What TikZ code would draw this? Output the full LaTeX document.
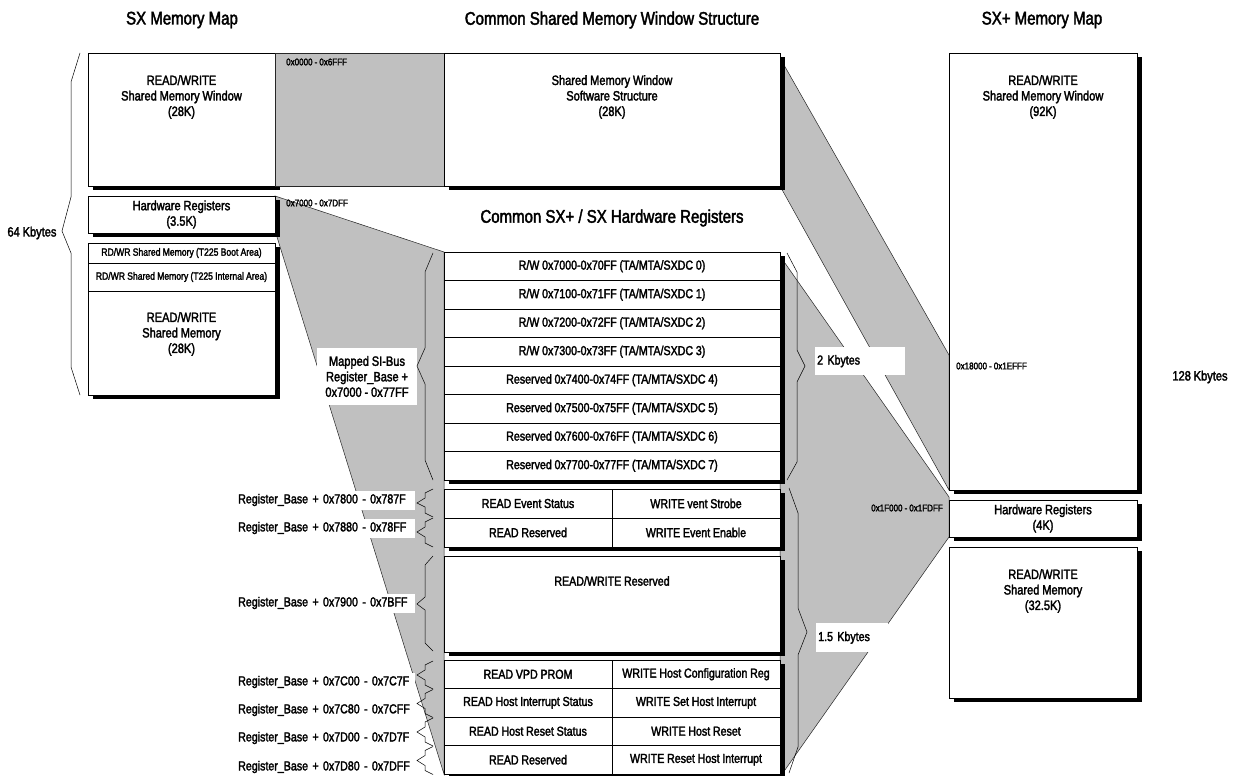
\documentclass[tikz,border=0pt]{standalone}
\usepackage{fontspec}
\setmainfont{Liberation Sans}[FakeStretch=0.82, FakeBold=2.2]
\usepackage{tikz}
\usetikzlibrary{shadows}

\definecolor{bandgray}{RGB}{192,192,192}
\protected\def\narrowsp{\spaceskip=0.21em plus 0.08em\relax}

\begin{document}
\begin{tikzpicture}[x=1pt,y=-1pt,
  heading/.style={font=\fontsize{18.3}{22}\selectfont},
  txt/.style={font=\fontsize{13.5}{15.5}\selectfont\narrowsp, align=center},
  addr/.style={font=\fontsize{9.8}{11}\selectfont\narrowsp, inner sep=1pt},
  mem/.style={draw, fill=white, line width=0.7pt, inner sep=0pt},
  memshadow/.style={mem, drop shadow={fill=black, opacity=1, shadow xshift=5pt, shadow yshift=-4pt}},
  cell/.style={draw, fill=white, line width=0.6pt, inner sep=0pt, font=\fontsize{13}{15}\selectfont\narrowsp},
  band/.style={fill=bandgray, draw=black!85, line width=0.5pt},
  tag/.style={fill=white, inner sep=2pt, font=\fontsize{13}{15}\selectfont\narrowsp},
  brace/.style={line width=0.5pt}]
\useasboundingbox (0,0) rectangle (1235,776);
\fill[white] (0,0) rectangle (1235,776);

% headings
\node[heading] (sxtitle) at (182,20) {SX Memory Map};
\node[heading] (cmtitle) at (612,20) {Common Shared Memory Window Structure};
\node[heading] (sxptitle) at (1042,20) {SX+ Memory Map};
\node[heading] (hwtitle) at (612,218) {Common SX+ / SX Hardware Registers};

% SX memory map
\node[memshadow, minimum width=187pt, minimum height=133pt] (sxwin) at (181.5,119.5) {};

% gray bands
\draw[band] (275,53) rectangle (444,186);
\draw[band] (275,196) -- (444,252) -- (444,774) -- (277,237) -- cycle;
\draw[band] (780,58) -- (949,355) -- (949,490) -- (780,186) -- cycle;
\draw[band] (780,256) -- (949,497) -- (949,537) -- (780,777) -- cycle;

\node[txt] (sxwintxt) at (181.5,97) {READ/WRITE\\Shared Memory Window\\(28K)};
\node[memshadow, txt, minimum width=187pt, minimum height=37pt] (sxhw) at (181.5,214.5) {Hardware Registers\\(3.5K)};
\node[memshadow, minimum width=187pt, minimum height=152pt] (sxmem) at (181.5,319) {};
\node[cell, minimum width=187pt, minimum height=20pt, font=\fontsize{10.5}{12}\selectfont\narrowsp] (boot) at (181.5,253) {RD/WR Shared Memory (T225 Boot Area)};
\node[cell, minimum width=187pt, minimum height=28pt, font=\fontsize{10.5}{12}\selectfont\narrowsp] (internal) at (181.5,277) {RD/WR Shared Memory (T225 Internal Area)};
\node[txt] (sxmemtxt) at (181.5,334) {READ/WRITE\\Shared Memory\\(28K)};
\node[txt, anchor=east] (k64) at (60,233) {64 Kbytes};

% common window structure
\node[memshadow, minimum width=336pt, minimum height=133pt] (swstruct) at (612,119.5) {};
\node[txt] (swstructtxt) at (612,97) {Shared Memory Window\\Software Structure\\(28K)};
\node[addr, anchor=west] (addr0) at (285,62) {0x0000 - 0x6FFF};
\node[addr, anchor=west] (addr7) at (285,203) {0x7000 - 0x7DFF};

% hardware registers, SI-Bus part
\node[memshadow, minimum width=336pt, minimum height=228pt] (grpa) at (612,366) {};
\node[cell, minimum width=336pt, minimum height=28.5pt] (ra0) at (612,266.25) {R/W 0x7000-0x70FF (TA/MTA/SXDC 0)};
\node[cell, minimum width=336pt, minimum height=28.5pt] (ra1) at (612,294.75) {R/W 0x7100-0x71FF (TA/MTA/SXDC 1)};
\node[cell, minimum width=336pt, minimum height=28.5pt] (ra2) at (612,323.25) {R/W 0x7200-0x72FF (TA/MTA/SXDC 2)};
\node[cell, minimum width=336pt, minimum height=28.5pt] (ra3) at (612,351.75) {R/W 0x7300-0x73FF (TA/MTA/SXDC 3)};
\node[cell, minimum width=336pt, minimum height=28.5pt] (ra4) at (612,380.25) {Reserved 0x7400-0x74FF (TA/MTA/SXDC 4)};
\node[cell, minimum width=336pt, minimum height=28.5pt] (ra5) at (612,408.75) {Reserved 0x7500-0x75FF (TA/MTA/SXDC 5)};
\node[cell, minimum width=336pt, minimum height=28.5pt] (ra6) at (612,437.25) {Reserved 0x7600-0x76FF (TA/MTA/SXDC 6)};
\node[cell, minimum width=336pt, minimum height=28.5pt] (ra7) at (612,465.75) {Reserved 0x7700-0x77FF (TA/MTA/SXDC 7)};

% event registers
\node[memshadow, minimum width=336pt, minimum height=58pt] (grpb) at (612,518) {};
\node[cell, minimum width=168pt, minimum height=29pt] (evstat) at (528,503.5) {READ Event Status};
\node[cell, minimum width=168pt, minimum height=29pt] (evstrobe) at (696,503.5) {WRITE vent Strobe};
\node[cell, minimum width=168pt, minimum height=29pt] (evres) at (528,532.5) {READ Reserved};
\node[cell, minimum width=168pt, minimum height=29pt] (evenable) at (696,532.5) {WRITE Event Enable};

% reserved
\node[memshadow, minimum width=336pt, minimum height=96pt] (grpc) at (612,604) {};
\node[font=\fontsize{13}{15}\selectfont\narrowsp] (rwres) at (612,581) {READ/WRITE Reserved};

% host registers
\node[memshadow, minimum width=336pt, minimum height=114pt] (grpd) at (612,717) {};
\node[cell, minimum width=168pt, minimum height=28.5pt] (vpd) at (528,674.25) {READ VPD PROM};
\node[cell, minimum width=168pt, minimum height=28.5pt] (hostcfg) at (696,674.25) {WRITE Host Configuration Reg};
\node[cell, minimum width=168pt, minimum height=28.5pt] (intstat) at (528,702.75) {READ Host Interrupt Status};
\node[cell, minimum width=168pt, minimum height=28.5pt] (setint) at (696,702.75) {WRITE Set Host Interrupt};
\node[cell, minimum width=168pt, minimum height=28.5pt] (rststat) at (528,731.25) {READ Host Reset Status};
\node[cell, minimum width=168pt, minimum height=28.5pt] (hostrst) at (696,731.25) {WRITE Host Reset};
\node[cell, minimum width=168pt, minimum height=28.5pt] (hostres) at (528,759.75) {READ Reserved};
\node[cell, minimum width=168pt, minimum height=28.5pt] (rstint) at (696,759.75) {WRITE Reset Host Interrupt};

% SX+ memory map
\node[memshadow, minimum width=188pt, minimum height=437pt] (sxpwin) at (1043,271.5) {};
\node[txt] (sxpwintxt) at (1043,97) {READ/WRITE\\Shared Memory Window\\(92K)};
\node[memshadow, txt, minimum width=188pt, minimum height=37pt] (sxphw) at (1043,518.5) {Hardware Registers\\(4K)};
\node[memshadow, minimum width=188pt, minimum height=151pt] (sxpmem) at (1043,622.5) {};
\node[txt] (sxpmemtxt) at (1043,591) {READ/WRITE\\Shared Memory\\(32.5K)};
\node[addr, anchor=west] (addr18) at (955,366) {0x18000 - 0x1EFFF};
\node[addr, anchor=east] (addr1f) at (944,508) {0x1F000 - 0x1FDFF};
\node[txt] (k128) at (1200,377) {128 Kbytes};

% labels
\node[tag, anchor=north west, minimum width=90pt, minimum height=28pt, text width=86pt, align=left] (k2) at (815,347) {2 Kbytes};
\node[tag, anchor=north west, minimum width=72pt, minimum height=29pt, text width=68pt, align=left] (k15) at (816,623) {1.5 Kbytes};
\node[tag, txt, minimum width=100pt, minimum height=57pt] (sibus) at (367,376.5) {Mapped SI-Bus\\Register\_Base +\\0x7000 - 0x77FF};
\node[tag, anchor=west, text width=175pt, align=left, minimum height=19pt] (rb7800) at (236,500) {Register\_Base + 0x7800 - 0x787F};
\node[tag, anchor=west, text width=175pt, align=left, minimum height=19pt] (rb7880) at (236,528) {Register\_Base + 0x7880 - 0x78FF};
\node[tag, anchor=west, text width=175pt, align=left, minimum height=19pt] (rb7900) at (236,603) {Register\_Base + 0x7900 - 0x7BFF};
\node[tag, anchor=west, text width=175pt, align=left, minimum height=19pt] (rb7c00) at (236,682) {Register\_Base + 0x7C00 - 0x7C7F};
\node[tag, anchor=west, text width=175pt, align=left, minimum height=19pt] (rb7c80) at (236,710) {Register\_Base + 0x7C80 - 0x7CFF};
\node[tag, anchor=west, text width=175pt, align=left, minimum height=19pt] (rb7d00) at (236,738) {Register\_Base + 0x7D00 - 0x7D7F};
\node[tag, anchor=west, text width=175pt, align=left, minimum height=19pt] (rb7d80) at (236,767) {Register\_Base + 0x7D80 - 0x7DFF};

% braces
\draw[brace] (80,53) -- (71,82) -- (71,197) -- (62,231) -- (71,253) -- (71,367) -- (80,395);
\draw[brace] (433,253) -- (425,272) -- (425,348) -- (417,366) -- (425,384) -- (425,460) -- (433,480);
\draw[brace] (433,489) -- (425,493) -- (425,498) -- (417,503) -- (425,507) -- (425,513) -- (433,517);
\draw[brace] (433,518) -- (425,522) -- (425,527) -- (417,532) -- (425,537) -- (425,543) -- (433,547);
\draw[brace] (433,556) -- (425,565) -- (425,597) -- (417,604) -- (425,610) -- (425,643) -- (433,651);
\draw[brace] (433,661) -- (425,665) -- (425,670) -- (417,675) -- (425,680) -- (425,685) -- (433,689);
\draw[brace] (433,689.5) -- (425,693.5) -- (425,698.5) -- (417,703.5) -- (425,708.5) -- (425,713.5) -- (433,717.5);
\draw[brace] (433,718) -- (425,722) -- (425,727) -- (417,732) -- (425,737) -- (425,742) -- (433,746);
\draw[brace] (433,746.5) -- (425,750.5) -- (425,755.5) -- (417,760.5) -- (425,765.5) -- (425,770.5) -- (433,774.5);
\draw[brace] (787,253) -- (797,272) -- (797,350) -- (805,366) -- (797,382) -- (797,462) -- (787,480);
\draw[brace] (789,488) -- (798,513) -- (798,608) -- (807,632) -- (798,655) -- (798,747) -- (789,773);
\end{tikzpicture}
\end{document}
